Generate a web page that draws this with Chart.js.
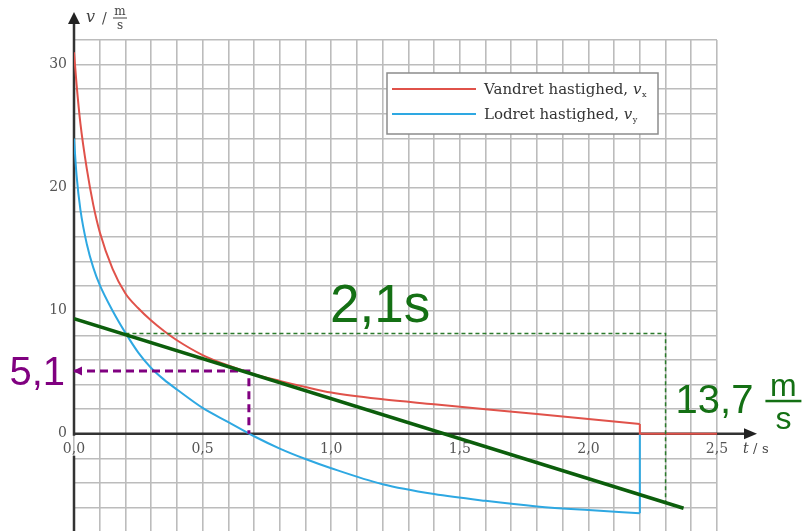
<!DOCTYPE html>
<html>
<head>
<meta charset="utf-8">
<script src="https://cdn.jsdelivr.net/npm/chart.js@4.4.1/dist/chart.umd.min.js"></script>
<style>
  html, body { margin: 0; padding: 0; background: #fff; overflow: hidden; }
  #wrap { width: 807px; height: 531px; position: relative; }
</style>
</head>
<body>
<div id="wrap"><canvas id="c" width="807" height="531"></canvas></div>
<script>
// Sample times (s) and the two velocity components (m/s)
const timeSeconds     = [0, 0.01, 0.025, 0.05, 0.075, 0.1, 0.15, 0.2, 0.25, 0.3, 0.35, 0.4, 0.5, 0.6, 0.7, 0.8, 0.9, 1.0, 1.2, 1.4, 1.6, 1.8, 2.0, 2.2];
const horizontalSpeed = [31, 28.4, 25.2, 21.5, 18.6, 16.4, 13.4, 11.4, 10.2, 9.2, 8.35, 7.6, 6.4, 5.55, 4.85, 4.3, 3.8, 3.35, 2.8, 2.4, 2.0, 1.6, 1.2, 0.8];
const verticalSpeed   = [24, 21.0, 18.2, 15.4, 13.5, 12.1, 10.0, 8.2, 6.6, 5.35, 4.4, 3.6, 2.1, 0.95, -0.2, -1.2, -2.05, -2.8, -4.1, -4.9, -5.45, -5.9, -6.2, -6.45];

// After landing both components drop to zero
const landingTime = 2.2;
const axisEndTime = 2.5;

// Tangent line drawn on the horizontal-speed curve
const tangentTimes  = [0, 2.37];
const tangentSpeeds = [9.35, -6.05];

// Reading at the tangent point
const readTime  = 0.68;
const readSpeed = 5.1;

// Slope triangle along the tangent: run 2,1 s and drop 13,7 m/s
const runStart   = 0.2;
const runLevel   = 8.15;
const runSeconds = 2.1;
const dropSpeed  = 13.7;

// Labelled ticks
const xTickValues = [0, 0.5, 1.0, 1.5, 2.0, 2.5];
const xTickLabels = ['0,0', '0,5', '1,0', '1,5', '2,0', '2,5'];
const yTickValues = [0, 10, 20, 30];
const yTickLabels = ['0', '10', '20', '30'];

const RED = '#e0524a';
const BLUE = '#2ea8e2';
const GREEN = '#0c5e0c';
const GREEN_TEXT = '#147014';
const GREEN_DASH = '#2b7a2b';
const PURPLE = '#800080';
const GRID = '#bcbcbc';
const SERIF = '"DejaVu Serif", "Liberation Serif", serif';
const SANS = '"Liberation Sans", Arial, sans-serif';

const toPoints = (xs, ys) => xs.map((x, i) => ({ x: x, y: ys[i] }));
const lastVx = horizontalSpeed[horizontalSpeed.length - 1];
const lastVy = verticalSpeed[verticalSpeed.length - 1];

function tickLabel(values, labels, v) {
  for (let i = 0; i < values.length; i++) {
    if (Math.abs(values[i] - v) < 1e-6) return labels[i];
  }
  return '';
}

// Axes with arrowheads
const axesPlugin = {
  id: 'axesArrows',
  beforeDatasetsDraw(chart) {
    const { ctx, chartArea } = chart;
    const xs = chart.scales.x, ys = chart.scales.y;
    const x0 = xs.getPixelForValue(0);
    const y0 = ys.getPixelForValue(0);
    ctx.save();
    ctx.strokeStyle = '#333';
    ctx.fillStyle = '#222';
    ctx.lineWidth = 2.5;
    // horizontal axis
    ctx.beginPath();
    ctx.moveTo(x0, y0);
    ctx.lineTo(748, y0);
    ctx.stroke();
    ctx.beginPath();
    ctx.moveTo(757, y0);
    ctx.lineTo(744, y0 - 5.5);
    ctx.lineTo(744, y0 + 5.5);
    ctx.closePath();
    ctx.fill();
    // vertical axis, interrupted behind the origin label
    ctx.beginPath();
    ctx.moveTo(x0, chartArea.bottom);
    ctx.lineTo(x0, y0 + 22);
    ctx.moveTo(x0, y0 + 2);
    ctx.lineTo(x0, 22);
    ctx.stroke();
    ctx.beginPath();
    ctx.moveTo(x0, 12);
    ctx.lineTo(x0 - 6, 24);
    ctx.lineTo(x0 + 6, 24);
    ctx.closePath();
    ctx.fill();
    ctx.restore();
  }
};

// Axis titles, legend box and the annotation texts
const annotationPlugin = {
  id: 'annotations',
  afterDatasetsDraw(chart) {
    const { ctx } = chart;
    const xs = chart.scales.x, ys = chart.scales.y;
    const x0 = xs.getPixelForValue(0);
    const y0 = ys.getPixelForValue(0);
    ctx.save();

    // axis titles
    ctx.fillStyle = '#444';
    ctx.textBaseline = 'alphabetic';
    ctx.textAlign = 'left';
    ctx.font = 'italic 16px ' + SERIF;
    ctx.fillText('v', 86, 22);
    ctx.font = '14px ' + SERIF;
    ctx.fillText('/', 102, 23);
    ctx.font = '12px ' + SERIF;
    ctx.textAlign = 'center';
    ctx.fillText('m', 120, 15);
    ctx.fillText('s', 120, 29);
    ctx.fillRect(113, 17.5, 14, 1);
    ctx.textAlign = 'left';
    ctx.font = 'italic 14px ' + SERIF;
    ctx.fillText('t', 743, y0 + 19);
    ctx.font = '13px ' + SERIF;
    ctx.fillText('/', 753, y0 + 19);
    ctx.fillText('s', 762, y0 + 19);

    // purple arrowhead at the speed axis
    const ry = ys.getPixelForValue(readSpeed);
    ctx.fillStyle = PURPLE;
    ctx.beginPath();
    ctx.moveTo(x0 - 1, ry);
    ctx.lineTo(x0 + 8, ry - 4.5);
    ctx.lineTo(x0 + 8, ry + 4.5);
    ctx.closePath();
    ctx.fill();

    // big annotation texts
    ctx.font = '40px ' + SANS;
    ctx.textAlign = 'right';
    ctx.fillText(String(readSpeed).replace('.', ','), x0 - 9, ry + 14);

    ctx.fillStyle = GREEN_TEXT;
    ctx.font = '53px ' + SANS;
    ctx.textAlign = 'center';
    const runY = ys.getPixelForValue(runLevel);
    ctx.fillText(String(runSeconds).replace('.', ',') + 's', xs.getPixelForValue(1.19), runY - 11);

    ctx.font = '40px ' + SANS;
    ctx.textAlign = 'left';
    const dropText = String(dropSpeed).replace('.', ',');
    const dx = xs.getPixelForValue(runStart + runSeconds) + 10;
    ctx.fillText(dropText, dx, y0 - 21);
    const fx = dx + ctx.measureText(dropText).width + 30;
    ctx.font = '32px ' + SANS;
    ctx.textAlign = 'center';
    ctx.fillText('m', fx, y0 - 38);
    ctx.fillText('s', fx, y0 - 5);
    ctx.fillRect(fx - 18, y0 - 34, 36, 2.5);

    // legend
    const lx = 387, ly = 73, lw = 271, lh = 61;
    ctx.fillStyle = '#fff';
    ctx.fillRect(lx, ly, lw, lh);
    ctx.strokeStyle = '#8c8c8c';
    ctx.lineWidth = 1.5;
    ctx.strokeRect(lx, ly, lw, lh);
    const entries = chart.data.datasets.filter(d => d.legendText);
    entries.forEach((d, i) => {
      const yy = 89 + i * 25;
      ctx.strokeStyle = d.borderColor;
      ctx.lineWidth = 2;
      ctx.beginPath();
      ctx.moveTo(392, yy);
      ctx.lineTo(476, yy);
      ctx.stroke();
      ctx.fillStyle = '#333';
      ctx.textAlign = 'left';
      ctx.font = '15px ' + SERIF;
      ctx.fillText(d.legendText, 484, yy + 5);
      let w = ctx.measureText(d.legendText).width;
      ctx.font = 'italic 15px ' + SERIF;
      ctx.fillText('v', 484 + w, yy + 5);
      w += ctx.measureText('v').width;
      ctx.font = '8px ' + SERIF;
      ctx.fillText(d.legendSub, 484 + w + 0.5, yy + 8);
    });

    ctx.restore();
  }
};

new Chart(document.getElementById('c'), {
  type: 'line',
  data: {
    datasets: [
      {
        data: toPoints(tangentTimes, tangentSpeeds),
        borderColor: GREEN, borderWidth: 3.5, tension: 0, order: 0
      },
      {
        data: [{ x: 0, y: readSpeed }, { x: readTime, y: readSpeed }, { x: readTime, y: 0 }],
        borderColor: PURPLE, borderWidth: 3, borderDash: [8, 5], tension: 0, order: 1
      },
      {
        data: [{ x: runStart, y: runLevel }, { x: runStart + runSeconds, y: runLevel },
               { x: runStart + runSeconds, y: runLevel - dropSpeed }],
        borderColor: GREEN_DASH, borderWidth: 1.5, borderDash: [4, 3], tension: 0, order: 2
      },
      {
        legendText: 'Vandret hastighed, ', legendSub: 'x',
        data: toPoints(timeSeconds, horizontalSpeed),
        borderColor: RED, borderWidth: 2, cubicInterpolationMode: 'monotone', order: 3
      },
      {
        legendText: 'Lodret hastighed, ', legendSub: 'y',
        data: toPoints(timeSeconds, verticalSpeed),
        borderColor: BLUE, borderWidth: 2, cubicInterpolationMode: 'monotone', order: 4
      },
      {
        data: [{ x: landingTime, y: lastVx }, { x: landingTime, y: 0 }, { x: axisEndTime, y: 0 }],
        borderColor: RED, borderWidth: 2, tension: 0, order: 3
      },
      {
        data: [{ x: landingTime, y: lastVy }, { x: landingTime, y: 0 }],
        borderColor: BLUE, borderWidth: 2, tension: 0, order: 4
      }
    ]
  },
  options: {
    responsive: false,
    animation: false,
    devicePixelRatio: 1,
    layout: { padding: { left: 0, top: 40, right: 90, bottom: 0 }, autoPadding: false },
    plugins: { legend: { display: false }, tooltip: { enabled: false } },
    elements: { point: { radius: 0 }, line: { fill: false } },
    scales: {
      x: {
        type: 'linear', min: 0, max: axisEndTime, position: { y: 0 },
        afterFit: s => { s.height = 0; s.paddingLeft = 0; s.paddingRight = 0; s.paddingTop = 0; s.paddingBottom = 0; },
        grid: { color: GRID, lineWidth: 1.6, drawTicks: false },
        border: { display: false },
        ticks: {
          stepSize: 0.1, autoSkip: false, maxRotation: 0, padding: 7,
          color: '#555', font: { family: SERIF, size: 14 },
          callback: v => tickLabel(xTickValues, xTickLabels, v)
        }
      },
      y: {
        type: 'linear', min: -7.9, max: 32, position: 'left',
        afterFit: s => { s.width = 74; s.paddingTop = 0; s.paddingBottom = 0; },
        grid: { color: GRID, lineWidth: 1.6, drawTicks: false },
        border: { display: false },
        ticks: {
          stepSize: 2, includeBounds: false, autoSkip: false, padding: 7,
          color: '#555', font: { family: SERIF, size: 14 },
          callback: v => tickLabel(yTickValues, yTickLabels, v)
        }
      }
    }
  },
  plugins: [axesPlugin, annotationPlugin]
});
</script>
</body>
</html>
